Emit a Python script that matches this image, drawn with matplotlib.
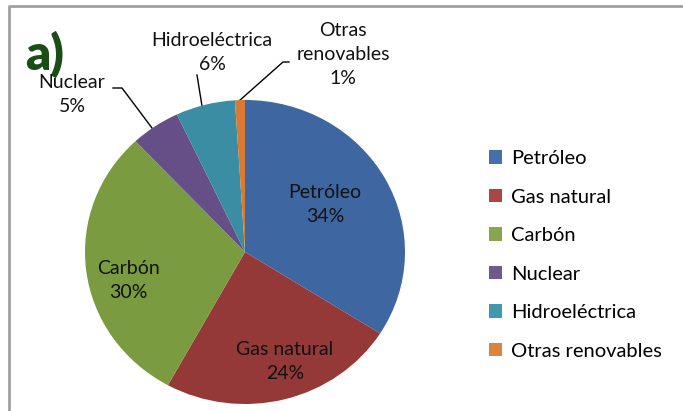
import matplotlib.pyplot as plt
from matplotlib.patches import Patch

plt.rcParams['font.family'] = ['Lato', 'DejaVu Sans']

categories = ['Petróleo', 'Gas natural', 'Carbón', 'Nuclear', 'Hidroeléctrica', 'Otras renovables']
shares = [34, 24, 30, 5, 6, 1]
pie_colors = ['#3E66A1', '#943838', '#7A9B40', '#654F86', '#3A8DA3', '#D97A32']
legend_colors = ['#4471AB', '#AA4644', '#89A54E', '#71588F', '#4198AF', '#DB843D']
slice_labels = ['Petróleo\n34%', 'Gas natural\n24%', 'Carbón\n30%', 'Nuclear\n5%',
                'Hidroeléctrica\n6%', 'Otras\nrenovables\n1%']

W, H = 683, 411
fig = plt.figure(figsize=(W / 100, H / 100), dpi=100)

# overlay axes in pixel coords for frame, leader lines, title
ov = fig.add_axes([0, 0, 1, 1])
ov.set_xlim(0, W)
ov.set_ylim(H, 0)
ov.axis('off')
ov.plot([9, 9, W + 5], [H + 5, 6, 6], color='#A0A0A0', lw=2, solid_capstyle='butt')
ov.text(25, 54, 'a)', fontsize=35, fontweight='heavy', color='#1B4D17', va='center', ha='left')

# pie axes: centre at pixel (245, 252), radii 160 x 152
cx, cy, rx, ry = 245, 252, 160, 152
m = 1.1
ax = fig.add_axes([(cx - rx * m) / W, (H - cy - ry * m) / H, 2 * rx * m / W, 2 * ry * m / H])
ax.pie(shares, colors=pie_colors, startangle=90, counterclock=False,
       wedgeprops=dict(linewidth=0))
ax.set_aspect('auto')
ax.set_xlim(-m, m)
ax.set_ylim(-m, m)
ax.axis('off')

label_px = [(325, 205), (285, 361), (128, 281), (72, 94), (212, 53), (343, 55)]
for txt, (px, py) in zip(slice_labels, label_px):
    ax.text((px - cx) / rx, (cy - py) / ry, txt, ha='center', va='center',
            fontsize=14, color='#111111', linespacing=1.5)

leaders = [([113, 122, 152], [88, 88, 128]),
           ([197, 202], [75, 106]),
           ([289, 283, 239], [62, 62, 101])]
for xs, ys in leaders:
    ov.plot(xs, ys, color='black', lw=1)

handles = [Patch(facecolor=c, edgecolor='none') for c in legend_colors]
fig.legend(handles, categories, loc='upper left', bbox_to_anchor=(479 / W, 1 - 140 / H),
           frameon=False, fontsize=14.5, handlelength=0.65, handleheight=0.65,
           handletextpad=0.45, labelspacing=1.07, borderpad=0)

fig.savefig('out.png', dpi=100)
